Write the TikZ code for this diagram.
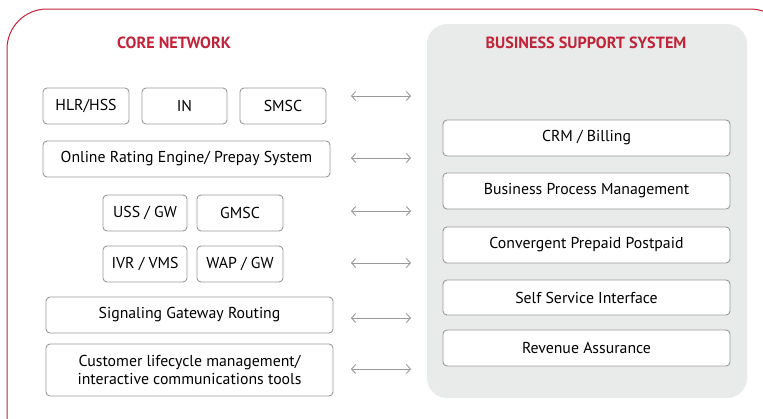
\documentclass[tikz,border=0pt]{standalone}
\usepackage{fontspec}
\setmainfont{PT Sans}
\usetikzlibrary{arrows.meta}
\definecolor{bssred}{HTML}{C0243A}
\definecolor{panelgray}{HTML}{E9EAEA}
\definecolor{boxline}{HTML}{9A9A9A}

\begin{document}
\begin{tikzpicture}[x=1pt,y=-1pt,
  module/.style={draw=boxline, line width=0.9pt, rounded corners=4pt, fill=white,
    align=center, inner sep=0pt, minimum height=36pt, font=\fontsize{15.8}{18.5}\selectfont},
  header/.style={text=bssred, font=\fontsize{16.2}{18}\selectfont\bfseries},
  link/.style={draw=boxline, line width=0.9pt,
    {Straight Barb[length=4pt,width=9pt]}-{Straight Barb[length=4pt,width=9pt]}}]
\useasboundingbox (0,0) rectangle (763,418);
\clip (0,0) rectangle (763,418);
% frame and panel
\draw [bssred, line width=1pt, rounded corners=40pt] (7,9) rectangle (790,460);
\fill [panelgray, rounded corners=20pt] (427,24) rectangle (747,398);
\node [header] (coretitle) at (174,43) {CORE NETWORK};
\node [header] (bsstitle) at (586,43) {BUSINESS SUPPORT SYSTEM};
% core network
\node [module, minimum width=86pt] (hlr) at (86,106) {HLR/HSS};
\node [module, minimum width=85pt] (in) at (184.5,106) {IN};
\node [module, minimum width=86pt] (smsc) at (283,106) {SMSC};
\node [module, minimum width=287pt] (ore) at (186.5,159) {Online Rating Engine/ Prepay System};
\node [module, minimum width=84pt] (uss) at (145,213) {USS / GW};
\node [module, minimum width=86pt] (gmsc) at (240,213) {GMSC};
\node [module, minimum width=84pt] (ivr) at (145,264) {IVR / VMS};
\node [module, minimum width=86pt] (wap) at (240,264) {WAP / GW};
\node [module, minimum width=287pt] (sgr) at (189.5,315) {Signaling Gateway Routing};
\node [module, minimum width=287pt, minimum height=52pt] (clm) at (189.5,370)
  {Customer lifecycle management/\\interactive communications tools};
% business support system
\node [module, minimum width=287pt] (crm) at (586.5,138) {CRM / Billing};
\node [module, minimum width=287pt] (bpm) at (586.5,191) {Business Process Management};
\node [module, minimum width=287pt] (cpp) at (586.5,245) {Convergent Prepaid Postpaid};
\node [module, minimum width=287pt, minimum height=35pt] (ssi) at (586.5,297.5) {Self Service Interface};
\node [module, minimum width=287pt] (ra) at (586.5,348) {Revenue Assurance};
% links
\foreach \y [count=\i] in {96,158,211,263,318,369} {
  \coordinate (l\i) at (351,\y);
  \coordinate (r\i) at (411,\y);
  \draw [link] (l\i) -- (r\i);
}
\end{tikzpicture}
\end{document}
